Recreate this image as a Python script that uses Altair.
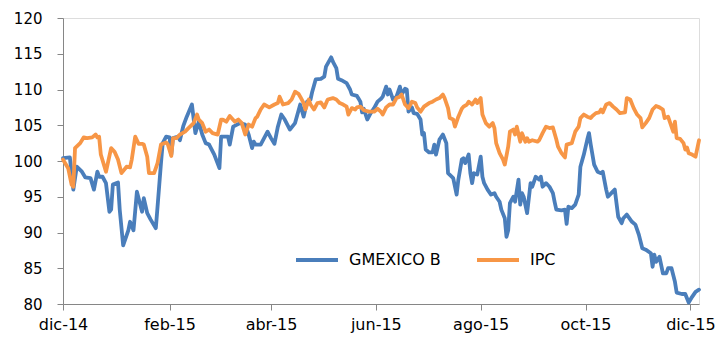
import altair as alt
import pandas as pd

series_names = ["GMEXICO B", "IPC"]
series_colors = ["#4A7EBB", "#F79646"]

gm_dates = [
    "2014-12-01", "2014-12-05", "2014-12-07", "2014-12-09", "2014-12-12", "2014-12-14",
    "2014-12-17", "2014-12-19", "2014-12-21", "2014-12-22", "2014-12-24", "2014-12-26",
    "2014-12-28", "2014-12-29", "2014-12-30", "2015-01-02", "2015-01-03", "2015-01-05",
    "2015-01-08", "2015-01-09", "2015-01-11", "2015-01-13", "2015-01-16", "2015-01-17",
    "2015-01-19", "2015-01-21", "2015-01-24", "2015-01-25", "2015-01-27", "2015-01-28",
    "2015-01-30", "2015-02-01", "2015-02-02", "2015-02-03", "2015-02-06", "2015-02-07",
    "2015-02-09", "2015-02-11", "2015-02-14", "2015-02-16", "2015-02-18", "2015-02-20",
    "2015-02-22", "2015-02-24", "2015-02-27", "2015-03-02", "2015-03-03", "2015-03-07",
    "2015-03-08", "2015-03-10", "2015-03-14", "2015-03-17", "2015-03-19", "2015-03-21",
    "2015-03-22", "2015-03-23", "2015-03-26", "2015-03-28", "2015-03-30", "2015-04-01",
    "2015-04-03", "2015-04-05", "2015-04-07", "2015-04-09", "2015-04-12", "2015-04-15",
    "2015-04-18", "2015-04-20", "2015-04-22", "2015-04-24", "2015-04-25", "2015-04-27",
    "2015-04-30", "2015-05-02", "2015-05-03", "2015-05-06", "2015-05-07", "2015-05-09",
    "2015-05-10", "2015-05-12", "2015-05-15", "2015-05-17", "2015-05-18", "2015-05-21",
    "2015-05-22", "2015-05-23", "2015-05-24", "2015-05-25", "2015-05-27", "2015-05-29",
    "2015-05-31", "2015-06-02", "2015-06-04", "2015-06-05", "2015-06-07", "2015-06-08",
    "2015-06-09", "2015-06-11", "2015-06-13", "2015-06-15", "2015-06-16", "2015-06-18",
    "2015-06-19", "2015-06-20", "2015-06-22", "2015-06-23", "2015-06-25", "2015-06-27",
    "2015-06-28", "2015-06-29", "2015-06-30", "2015-07-02", "2015-07-04", "2015-07-05",
    "2015-07-06", "2015-07-08", "2015-07-10", "2015-07-12", "2015-07-13", "2015-07-16",
    "2015-07-18", "2015-07-19", "2015-07-21", "2015-07-22", "2015-07-23", "2015-07-25",
    "2015-07-26", "2015-07-27", "2015-07-28", "2015-07-30", "2015-08-01", "2015-08-02",
    "2015-08-03", "2015-08-05", "2015-08-07", "2015-08-09", "2015-08-10", "2015-08-12",
    "2015-08-13", "2015-08-15", "2015-08-16", "2015-08-17", "2015-08-18", "2015-08-20",
    "2015-08-21", "2015-08-23", "2015-08-24", "2015-08-25", "2015-08-26", "2015-08-28",
    "2015-08-30", "2015-08-31", "2015-09-02", "2015-09-04", "2015-09-05", "2015-09-06",
    "2015-09-08", "2015-09-10", "2015-09-12", "2015-09-13", "2015-09-14", "2015-09-17",
    "2015-09-19", "2015-09-20", "2015-09-21", "2015-09-23", "2015-09-25", "2015-09-27",
    "2015-09-28", "2015-09-30", "2015-10-02", "2015-10-03", "2015-10-04", "2015-10-06",
    "2015-10-08", "2015-10-10", "2015-10-11", "2015-10-13", "2015-10-14", "2015-10-16",
    "2015-10-18", "2015-10-20", "2015-10-22", "2015-10-23", "2015-10-25", "2015-10-28",
    "2015-10-30", "2015-11-01", "2015-11-03", "2015-11-05", "2015-11-08", "2015-11-09",
    "2015-11-10", "2015-11-11", "2015-11-13", "2015-11-15", "2015-11-17", "2015-11-18",
    "2015-11-20", "2015-11-22", "2015-11-23", "2015-11-26", "2015-11-28", "2015-11-30",
    "2015-12-02", "2015-12-04", "2015-12-06",
]
gm_values = [
    100.4, 100.5, 96.0, 99.2, 98.5, 97.7,
    97.6, 96.0, 98.5, 97.8, 97.8, 96.9,
    92.9, 93.2, 96.7, 97.0, 93.2, 88.2,
    90.3, 91.5, 90.3, 95.7, 92.9, 94.8,
    92.7, 91.8, 90.6, 93.6, 99.7, 102.5,
    103.4, 103.3, 100.9, 103.2, 103.4, 102.9,
    104.9, 106.2, 107.9, 103.9, 105.5, 103.7,
    102.5, 102.3, 100.9, 99.0, 103.4, 103.4,
    102.3, 104.8, 105.3, 105.1, 103.7, 101.8,
    102.7, 102.3, 102.3, 103.2, 104.1, 103.2,
    102.4, 104.8, 106.5, 105.8, 104.4, 105.3,
    107.9, 106.2, 108.3, 108.6, 109.7, 111.4,
    111.5, 111.8, 113.2, 114.5, 113.9, 113.0,
    111.5, 111.3, 110.9, 110.0, 109.3, 109.1,
    108.7, 108.3, 106.8, 107.3, 105.8, 106.7,
    107.4, 108.3, 108.7, 109.0, 110.4, 109.3,
    110.0, 108.6, 109.0, 110.4, 109.3, 110.1,
    110.0, 106.9, 107.5, 106.7, 106.6, 105.8,
    103.7, 103.9, 101.6, 101.2, 101.2, 102.3,
    100.9, 103.0, 103.7, 102.5, 98.3, 97.6,
    95.3, 97.4, 100.2, 100.4, 99.7, 100.9,
    98.3, 96.9, 98.3, 98.1, 100.6, 97.8,
    96.9, 96.0, 95.3, 95.5, 95.0, 94.3,
    93.2, 92.0, 89.4, 90.3, 94.1, 95.0,
    94.3, 97.4, 93.9, 95.5, 95.0, 92.7,
    96.9, 96.4, 97.8, 97.4, 97.8, 96.4,
    96.9, 96.4, 95.5, 94.3, 93.2, 93.1,
    93.2, 91.2, 93.6, 93.4, 93.9, 95.3,
    99.2, 100.9, 103.0, 103.9, 102.3, 99.5,
    98.5, 98.3, 98.5, 96.0, 95.0, 95.5,
    96.0, 92.2, 91.3, 92.0, 92.5, 91.5,
    91.1, 89.7, 87.8, 87.6, 87.1, 85.2,
    86.9, 85.9, 86.6, 84.3, 84.3, 85.0,
    85.0, 83.1, 81.6, 81.4, 81.4, 80.2,
    81.0, 81.7, 82.0,
]

ipc_dates = [
    "2014-12-01", "2014-12-04", "2014-12-06", "2014-12-07", "2014-12-08", "2014-12-11",
    "2014-12-13", "2014-12-15", "2014-12-18", "2014-12-20", "2014-12-21", "2014-12-22",
    "2014-12-23", "2014-12-26", "2014-12-29", "2014-12-31", "2015-01-02", "2015-01-04",
    "2015-01-07", "2015-01-09", "2015-01-10", "2015-01-12", "2015-01-14", "2015-01-16",
    "2015-01-17", "2015-01-19", "2015-01-20", "2015-01-23", "2015-01-25", "2015-01-27",
    "2015-01-30", "2015-01-31", "2015-02-02", "2015-02-03", "2015-02-05", "2015-02-07",
    "2015-02-10", "2015-02-12", "2015-02-15", "2015-02-17", "2015-02-18", "2015-02-20",
    "2015-02-22", "2015-02-24", "2015-02-26", "2015-03-01", "2015-03-03", "2015-03-04",
    "2015-03-06", "2015-03-08", "2015-03-11", "2015-03-13", "2015-03-15", "2015-03-17",
    "2015-03-19", "2015-03-21", "2015-03-23", "2015-03-24", "2015-03-26", "2015-03-28",
    "2015-03-31", "2015-04-03", "2015-04-05", "2015-04-06", "2015-04-08", "2015-04-11",
    "2015-04-13", "2015-04-15", "2015-04-17", "2015-04-18", "2015-04-20", "2015-04-21",
    "2015-04-23", "2015-04-24", "2015-04-26", "2015-04-28", "2015-04-30", "2015-05-02",
    "2015-05-04", "2015-05-07", "2015-05-09", "2015-05-11", "2015-05-13", "2015-05-15",
    "2015-05-16", "2015-05-18", "2015-05-20", "2015-05-21", "2015-05-23", "2015-05-25",
    "2015-05-28", "2015-05-31", "2015-06-02", "2015-06-04", "2015-06-05", "2015-06-07",
    "2015-06-09", "2015-06-11", "2015-06-13", "2015-06-15", "2015-06-16", "2015-06-18",
    "2015-06-20", "2015-06-22", "2015-06-24", "2015-06-25", "2015-06-27", "2015-06-29",
    "2015-07-02", "2015-07-04", "2015-07-06", "2015-07-08", "2015-07-10", "2015-07-11",
    "2015-07-13", "2015-07-14", "2015-07-16", "2015-07-17", "2015-07-19", "2015-07-21",
    "2015-07-22", "2015-07-24", "2015-07-25", "2015-07-27", "2015-07-29", "2015-07-30",
    "2015-08-01", "2015-08-02", "2015-08-04", "2015-08-06", "2015-08-08", "2015-08-09",
    "2015-08-10", "2015-08-12", "2015-08-14", "2015-08-15", "2015-08-17", "2015-08-18",
    "2015-08-20", "2015-08-21", "2015-08-22", "2015-08-24", "2015-08-25", "2015-08-27",
    "2015-08-28", "2015-08-29", "2015-08-31", "2015-09-03", "2015-09-04", "2015-09-06",
    "2015-09-08", "2015-09-10", "2015-09-12", "2015-09-14", "2015-09-15", "2015-09-17",
    "2015-09-19", "2015-09-20", "2015-09-23", "2015-09-25", "2015-09-27", "2015-09-28",
    "2015-09-30", "2015-10-02", "2015-10-04", "2015-10-05", "2015-10-07", "2015-10-09",
    "2015-10-10", "2015-10-11", "2015-10-13", "2015-10-15", "2015-10-17", "2015-10-19",
    "2015-10-21", "2015-10-24", "2015-10-25", "2015-10-27", "2015-10-29", "2015-10-31",
    "2015-11-02", "2015-11-03", "2015-11-05", "2015-11-07", "2015-11-09", "2015-11-11",
    "2015-11-13", "2015-11-15", "2015-11-16", "2015-11-18", "2015-11-20", "2015-11-21",
    "2015-11-22", "2015-11-23", "2015-11-25", "2015-11-27", "2015-11-28", "2015-11-29",
    "2015-11-30", "2015-12-02", "2015-12-04", "2015-12-06",
]
ipc_values = [
    100.2, 99.0, 96.7, 96.4, 101.8, 102.5,
    103.3, 103.2, 103.3, 103.7, 103.3, 103.4,
    100.9, 98.5, 101.8, 101.3, 100.2, 98.3,
    99.2, 99.1, 100.2, 103.4, 102.4, 102.4,
    102.3, 100.6, 98.3, 98.3, 99.7, 102.3,
    102.6, 102.3, 100.7, 103.2, 103.2, 103.7,
    104.1, 104.6, 105.3, 106.5, 105.8, 105.3,
    104.1, 104.4, 103.9, 103.7, 105.8, 105.8,
    105.5, 106.3, 105.5, 105.8, 105.3, 103.7,
    105.1, 104.8, 106.0, 106.2, 107.2, 107.9,
    107.5, 107.9, 108.1, 109.0, 107.9, 108.1,
    108.6, 109.7, 109.4, 109.0, 108.1, 107.2,
    108.6, 107.9, 107.2, 108.1, 108.2, 107.5,
    108.6, 108.8, 108.6, 108.1, 107.9, 107.6,
    106.5, 107.4, 107.2, 107.5, 107.6, 107.1,
    106.9, 106.9, 107.3, 106.9, 106.5, 107.5,
    107.9, 107.9, 108.8, 109.0, 109.3, 107.9,
    107.4, 108.3, 108.1, 107.5, 106.9, 107.6,
    108.1, 108.3, 108.6, 108.8, 109.3, 108.8,
    107.4, 106.0, 105.8, 104.8, 106.2, 107.3,
    107.6, 107.9, 108.3, 107.9, 108.6, 108.1,
    108.8, 106.5, 105.3, 104.8, 105.3, 104.6,
    102.5, 101.1, 100.2, 99.5, 102.0, 104.1,
    104.4, 103.7, 104.8, 102.7, 103.9, 102.7,
    103.2, 102.7, 102.9, 102.7, 102.9, 103.9,
    104.8, 104.6, 104.7, 103.0, 102.0, 101.1,
    100.5, 102.3, 102.5, 104.1, 104.8, 106.0,
    106.5, 106.2, 106.0, 106.3, 106.7, 106.8,
    107.2, 106.8, 107.9, 108.1, 107.6, 107.2,
    106.7, 106.8, 108.8, 108.6, 107.4, 106.5,
    106.0, 104.7, 105.3, 106.0, 107.2, 107.7,
    107.5, 107.2, 106.0, 106.2, 104.8, 104.1,
    105.5, 103.2, 103.1, 102.5, 101.6, 101.9,
    101.1, 100.9, 100.6, 102.9,
]

month_labels = ["ene", "feb", "mar", "abr", "may", "jun",
                "jul", "ago", "sep", "oct", "nov", "dic"]
x_tick_dates = ["2014-12-01", "2015-02-01", "2015-04-01", "2015-06-01",
                "2015-08-01", "2015-10-01", "2015-12-01"]
x_domain_dates = ["2014-12-01", "2015-12-06"]
y_ticks = [80, 85, 90, 95, 100, 105, 110, 115, 120]


def to_dt(s):
    return alt.DateTime(year=int(s[:4]), month=int(s[5:7]), date=int(s[8:10]), utc=True)


df = pd.concat([
    pd.DataFrame({"fecha": gm_dates, "valor": gm_values, "serie": series_names[0]}),
    pd.DataFrame({"fecha": ipc_dates, "valor": ipc_values, "serie": series_names[1]}),
], ignore_index=True)

months_js = "[" + ",".join("'" + m + "'" for m in month_labels) + "]"
label_expr = months_js + "[utcmonth(datum.value)] + '-' + utcFormat(datum.value, '%y')"

FONT = "DejaVu Sans"
AXIS_GRAY = "#868686"

chart = alt.Chart(df).mark_line(
    strokeWidth=3.8, strokeJoin="round", strokeCap="round"
).encode(
    x=alt.X(
        "fecha:T",
        scale=alt.Scale(type="utc", domain=[to_dt(d) for d in x_domain_dates]),
        axis=alt.Axis(
            values=[to_dt(d) for d in x_tick_dates],
            labelExpr=label_expr,
            title=None, grid=False, labelFlush=False,
            tickSize=6, labelPadding=6,
            labelFont=FONT, labelFontSize=16, labelColor="#000000",
            domainColor=AXIS_GRAY, tickColor=AXIS_GRAY,
        ),
    ),
    y=alt.Y(
        "valor:Q",
        scale=alt.Scale(domain=[80, 120], nice=False, zero=False),
        axis=alt.Axis(
            values=y_ticks, title=None, grid=False,
            tickSize=6, labelPadding=15,
            labelFont=FONT, labelFontSize=15, labelColor="#000000",
            domainColor=AXIS_GRAY, tickColor=AXIS_GRAY,
        ),
    ),
    color=alt.Color(
        "serie:N",
        scale=alt.Scale(domain=series_names, range=series_colors),
        legend=alt.Legend(
            orient="none", legendX=231, legendY=219,
            direction="horizontal", title=None,
            symbolType="stroke", symbolSize=1764, symbolStrokeWidth=4,
            labelFont=FONT, labelFontSize=16, labelColor="#000000",
            labelOffset=9, columnPadding=28, padding=0,
        ),
    ),
    order=alt.value(0),
).properties(
    width=636, height=286,
    padding={"left": 63, "top": 18, "right": 22, "bottom": 48},
    autosize=alt.AutoSizeParams(type="none"),
).configure_view(
    stroke=None
).configure(
    background="#ffffff"
)

chart.save("out.html", embed_options={"renderer": "svg", "actions": False})
